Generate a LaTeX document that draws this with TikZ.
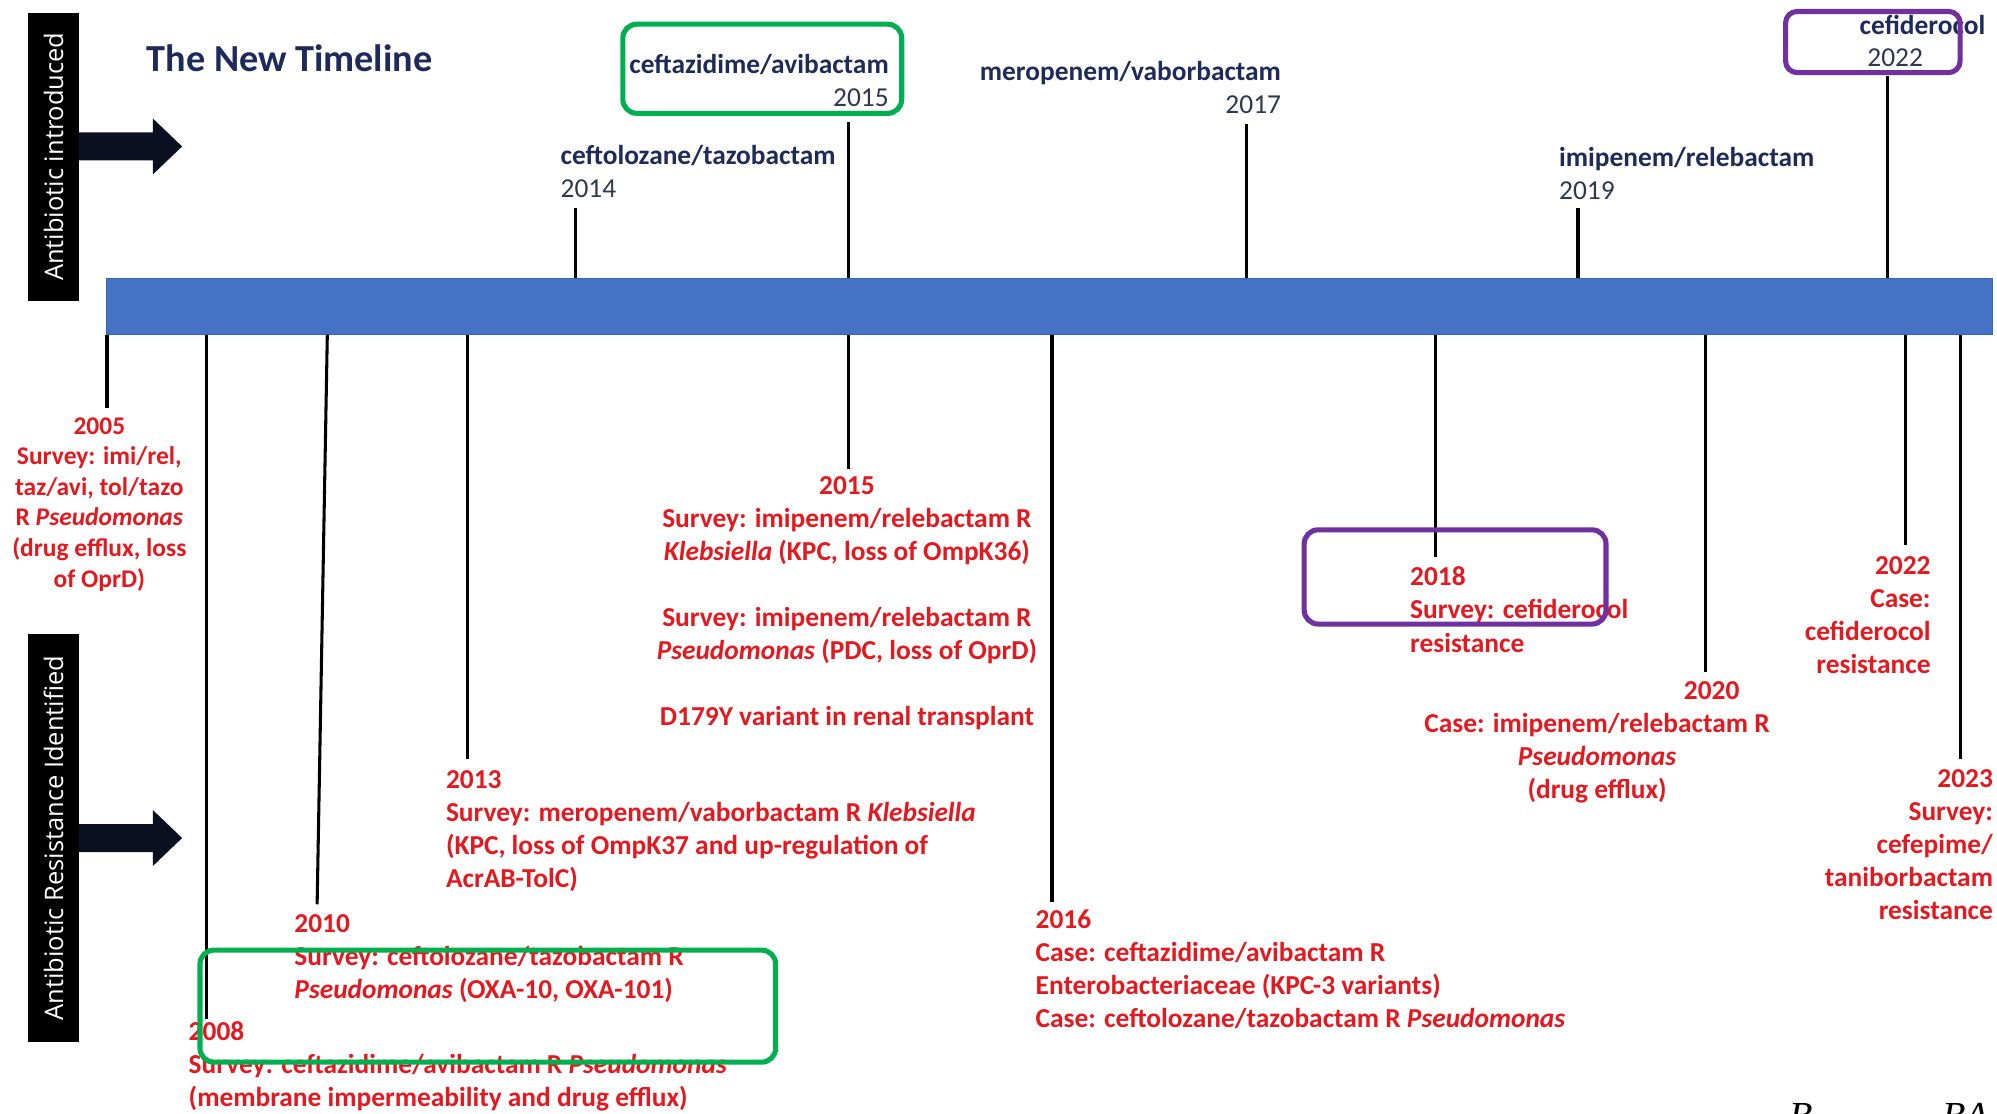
\documentclass[tikz,border=0pt]{standalone}
\usepackage{fontspec}
\setmainfont{Carlito}
\newfontfamily\sidefont{Open Sans}
\newfontfamily\cutfont{Liberation Serif}
\usetikzlibrary{calc}
\definecolor{barblue}{HTML}{4472C4}
\definecolor{baredge}{HTML}{3B64AD}
\definecolor{navytxt}{HTML}{1D2A5A}
\definecolor{yeartxt}{HTML}{2E3752}
\definecolor{redtxt}{HTML}{E3191F}
\definecolor{boxgreen}{HTML}{00B050}
\definecolor{boxpurple}{HTML}{7030A0}
\definecolor{arrowfill}{HTML}{0B1020}
\tikzset{
  drug/.style={inner sep=0pt, text=navytxt, font=\fontsize{21.5}{26}\selectfont\bfseries},
  event/.style={inner sep=0pt, text=redtxt, font=\fontsize{21.5}{26}\selectfont\bfseries},
  sidebar/.style={fill=black, text=white, inner sep=0pt, rotate=90, minimum height=40pt,
    font=\sidefont\fontsize{20}{24}\selectfont},
  tick/.style={line width=2.4pt, black},
  hilite/.style={line width=4pt, rounded corners=11pt},
}
\newcommand{\yr}[1]{{\mdseries\color{yeartxt}#1}}
\begin{document}
\begin{tikzpicture}[x=1pt, y=-1pt]
\useasboundingbox (0,0) rectangle (1568,874);
% side labels and arrows
\node[sidebar, minimum width=226pt] (intro) at (42,123) {Antibiotic introduced};
\node[sidebar, minimum width=320pt] (resist) at (42,658) {Antibiotic Resistance Identified};
\foreach \yc in {115,658}
  \fill[arrowfill] (62,\yc-11) -- ++(58,0) -- ++(0,-11) -- ++(23,22) -- ++(-23,22)
    -- ++(0,-11) -- ++(-58,0) -- cycle;
\node[anchor=base west, inner sep=0pt, text=navytxt, font=\fontsize{30}{36}\selectfont\bfseries]
  (title) at (115,56) {The New Timeline};

% the timeline
\node[fill=barblue, draw=baredge, line width=0.8pt, minimum width=1481pt, minimum height=44pt,
  inner sep=0pt, anchor=north west] (bar) at (83,218) {};

% antibiotics introduced (base = last line)
\node[drug, align=left, anchor=base west] (ctz) at (440,155) {ceftolozane/tazobactam\\\yr{2014}};
\node[drug, align=right, anchor=base east] (cza) at (698,84) {ceftazidime/avibactam\\\yr{2015}};
\node[drug, align=right, anchor=base east] (mvb) at (1006,89) {meropenem/vaborbactam\\\yr{2017}};
\node[drug, align=left, anchor=base west] (imr) at (1224,157) {imipenem/relebactam\\\yr{2019}};
\node[drug, anchor=base west] (fdc) at (1460,27) {cefiderocol};
\node[drug, anchor=base west] (fdcyr) at (1466,52) {\yr{2022}};

\foreach \n/\x/\y in {14/452/163, 15/666/96, 17/979/97, 19/1239/163, 22/1482/60}
  \coordinate (up\n) at (\x,\y);
\foreach \n in {14,15,17,19,22}
  \draw[tick] (up\n |- bar.north) -- (up\n);

% resistance identified (base = last line)
\node[event, align=center, anchor=base, font=\fontsize{20}{24}\selectfont\bfseries] (ev05) at (78,461)
  {2005\\Survey: imi/rel,\\taz/avi, tol/tazo\\R \textit{Pseudomonas}\\(drug efflux, loss\\of OprD)};
\node[event, align=left, anchor=base west] (ev08) at (148,869)
  {2008\\Survey: ceftazidime/avibactam R \textit{Pseudomonas}\\(membrane impermeability and drug efflux)};
\node[event, align=left, anchor=base west] (ev10) at (231,784)
  {2010\\Survey: ceftolozane/tazobactam R\\\textit{Pseudomonas} (OXA-10, OXA-101)};
\node[event, align=left, anchor=base west] (ev13) at (350,697)
  {2013\\Survey: meropenem/vaborbactam R \textit{Klebsiella}\\(KPC, loss of OmpK37 and up-regulation of\\AcrAB-TolC)};
\node[event, align=center, anchor=base] (ev15) at (665,570)
  {2015\\Survey: imipenem/relebactam R\\\textit{Klebsiella} (KPC, loss of OmpK36)\\[26pt]
   Survey: imipenem/relebactam R\\\textit{Pseudomonas} (PDC, loss of OprD)\\[26pt]
   D179Y variant in renal transplant};
\node[event, align=left, anchor=base west] (ev16) at (813,807)
  {2016\\Case: ceftazidime/avibactam R\\Enterobacteriaceae (KPC-3 variants)\\Case: ceftolozane/tazobactam R \textit{Pseudomonas}};
\node[event, align=left, anchor=base west] (ev18) at (1107,512)
  {2018\\Survey: cefiderocol\\resistance};
\node[event, anchor=base] (ev20yr) at (1344,549) {2020};
\node[event, align=center, anchor=base] (ev20) at (1254,627)
  {Case: imipenem/relebactam R\\\textit{Pseudomonas}\\(drug efflux)};
\node[event, align=right, anchor=base east] (ev22) at (1516,529)
  {2022\\Case:\\cefiderocol\\resistance};
\node[event, align=right, anchor=base east] (ev23) at (1565,722)
  {2023\\Survey:\\cefepime/\\taniborbactam\\resistance};

\foreach \n/\x/\y in {05/84/320, 08/162/800, 13/367/596, 15/666/368, 16/826/708,
    18/1127/437, 20/1339/528, 22/1496/428, 23/1539/596}
  \coordinate (dn\n) at (\x,\y);
\coordinate (dn10) at (249,710);
\foreach \n in {05,08,13,15,16,18,20,22,23}
  \draw[tick] (dn\n |- bar.south) -- (dn\n);
\draw[tick] ($(dn10 |- bar.south)+(8,0)$) -- (dn10);

% highlight boxes
\draw[hilite, boxgreen] (489,19) rectangle (708,89);
\draw[hilite, boxgreen] (157,746) rectangle (609,834);
\draw[hilite, boxpurple, rounded corners=9pt] (1402,9) rectangle (1539,57);
\draw[hilite, boxpurple] (1024,416) rectangle (1261,490);

% cut-off source line
\begin{scope}
\clip (0,0) rectangle (1568,874);
\node[anchor=base west, inner sep=0pt, font=\cutfont\itshape\fontsize{30}{36}\selectfont] (srcb) at (1405,886) {B};
\node[anchor=base west, inner sep=0pt, font=\cutfont\itshape\fontsize{30}{36}\selectfont] (srcba) at (1525,886) {BA};
\end{scope}
\end{tikzpicture}
\end{document}
